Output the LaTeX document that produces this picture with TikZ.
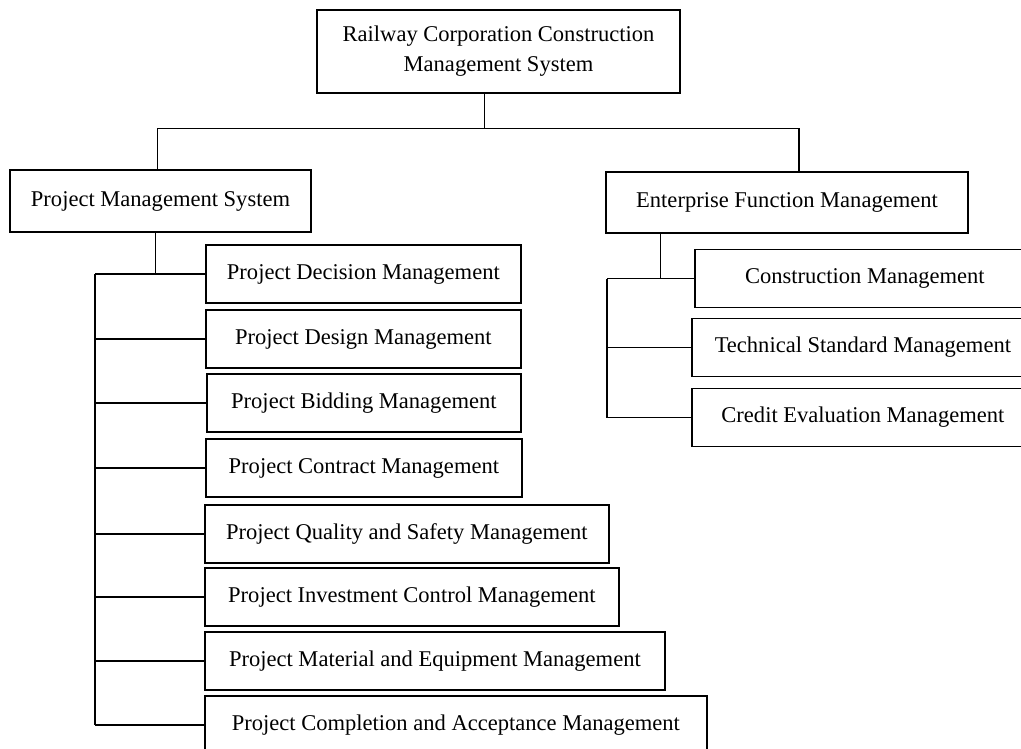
\documentclass[tikz,border=0pt]{standalone}
\usepackage{fontspec}
\setmainfont{Liberation Serif}
\usetikzlibrary{positioning}

\begin{document}
\begin{tikzpicture}[x=0.75pt,y=-0.75pt,
		box/.style={draw=black,line width=1.3pt,inner sep=0pt,align=center,minimum height=43.5pt,font=\fontsize{16.9}{22.5}\selectfont},
		link/.style={draw=black,line width=0.9pt}]
		\useasboundingbox (0,0) rectangle (1021,749);
		% top level
		\node[box,minimum width=272.25pt,minimum height=62.25pt] (top) at (498.5,51.5) {Railway Corporation Construction\\Management System};
		\node[box,minimum width=225.75pt,minimum height=46.5pt] (pms) at (160.5,201) {Project Management System};
		\node[box,minimum width=271.5pt,minimum height=45.75pt] (efm) at (787,202.5) {Enterprise Function Management};
		% project management
		\node[box,anchor=west,minimum width=236.25pt] (dec) at (205,274) {Project Decision Management};
		\node[box,anchor=west,minimum width=236.25pt] (des) at (205,339) {Project Design Management};
		\node[box,anchor=west,minimum width=235.5pt] (bid) at (206,403) {Project Bidding Management};
		\node[box,anchor=west,minimum width=237pt] (con) at (205,468) {Project Contract Management};
		\node[box,anchor=west,minimum width=303pt] (qua) at (204,534) {Project Quality and Safety Management};
		\node[box,anchor=west,minimum width=310.5pt] (inv) at (204,597) {Project Investment Control Management};
		\node[box,anchor=west,minimum width=345pt] (mat) at (204,661) {Project Material and Equipment Management};
		\node[box,anchor=west,minimum width=376.5pt] (cmp) at (204,725) {Project Completion and Acceptance Management};
		% enterprise functions
		\node[box,anchor=west,minimum width=255pt] (cns) at (694,278.5) {Construction Management};
		\node[box,anchor=west,minimum width=256.5pt] (tec) at (691,347.5) {Technical Standard Management};
		\node[box,anchor=west,minimum width=256.5pt] (cre) at (691,417.5) {Credit Evaluation Management};
		
		\coordinate (lspine) at (95,0);
		\coordinate (rspine) at (607,0);
		\coordinate (ttap) at ([xshift=-10.5pt]top.south);
		\coordinate (etap) at ([xshift=41.25pt]efm.south west);
		
		\draw[link] (ttap) -- ++(0,35) coordinate (tbus);
		\draw[link] ([xshift=-2.25pt]pms.north) |- (tbus) -| ([xshift=9pt]efm.north);
		\draw[link] ([xshift=-4pt]pms.south) -- ([xshift=-4pt]pms.south |- dec.west);
		\draw[link] (dec.west -| lspine) -- (cmp.west -| lspine);
		\foreach \n in {dec,des,bid,con,qua,inv,mat,cmp}
			\draw[link] (\n.west) -- (\n.west -| lspine);
		\draw[link] (etap) -- (etap |- cns.west);
		\draw[link] (cns.west -| rspine) -- (cre.west -| rspine);
		\foreach \n in {cns,tec,cre}
			\draw[link] (\n.west) -- (\n.west -| rspine);
	\end{tikzpicture}
\end{document}
